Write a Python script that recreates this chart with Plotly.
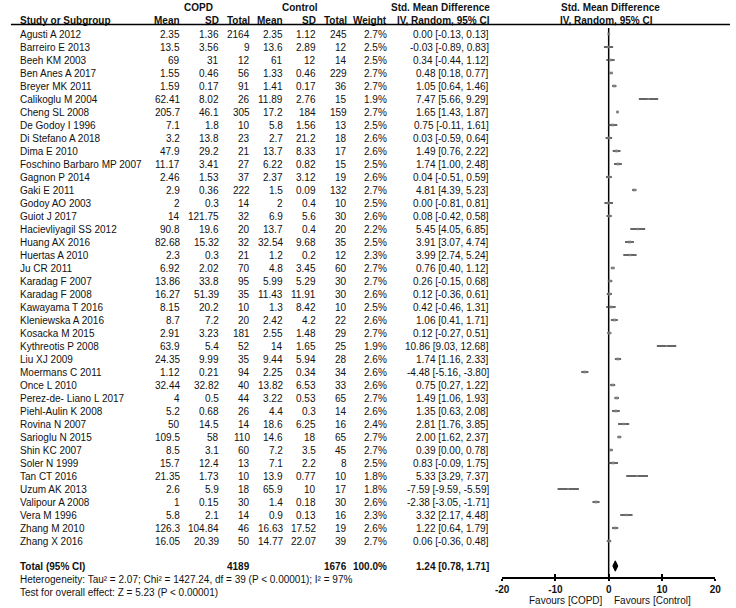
import plotly.graph_objects as go

studies = ["Agusti A 2012", "Barreiro E 2013", "Beeh KM 2003", "Ben Anes A 2017", "Breyer MK 2011",
           "Calikoglu M 2004", "Cheng SL 2008", "De Godoy I 1996", "Di Stefano A 2018", "Dima E 2010",
           "Foschino Barbaro MP 2007", "Gagnon P 2014", "Gaki E 2011", "Godoy AO 2003", "Guiot J 2017",
           "Hacievliyagil SS 2012", "Huang AX 2016", "Huertas A 2010", "Ju CR 2011", "Karadag F 2007",
           "Karadag F 2008", "Kawayama T 2016", "Kleniewska A 2016", "Kosacka M 2015", "Kythreotis P 2008",
           "Liu XJ 2009", "Moermans C 2011", "Once L 2010", "Perez-de- Liano L 2017", "Piehl-Aulin K 2008",
           "Rovina N 2007", "Sarioglu N 2015", "Shin KC 2007", "Soler N 1999", "Tan CT 2016",
           "Uzum AK 2013", "Valipour A 2008", "Vera M 1996", "Zhang M 2010", "Zhang X 2016"]
copd_mean = [2.35, 13.5, 69, 1.55, 1.59, 62.41, 205.7, 7.1, 3.2, 47.9, 11.17, 2.46, 2.9, 2, 14, 90.8,
             82.68, 2.3, 6.92, 13.86, 16.27, 8.15, 8.7, 2.91, 63.9, 24.35, 1.12, 32.44, 4, 5.2, 50, 109.5,
             8.5, 15.7, 21.35, 2.6, 1, 5.8, 126.3, 16.05]
copd_sd = [1.36, 3.56, 31, 0.46, 0.17, 8.02, 46.1, 1.8, 13.8, 29.2, 3.41, 1.53, 0.36, 0.3, 121.75, 19.6,
           15.32, 0.3, 2.02, 33.8, 51.39, 20.2, 7.2, 3.23, 5.4, 9.99, 0.21, 32.82, 0.5, 0.68, 14.5, 58,
           3.1, 12.4, 1.73, 5.9, 0.15, 2.1, 104.84, 20.39]
copd_n = [2164, 9, 12, 56, 91, 26, 305, 10, 23, 21, 27, 37, 222, 14, 32, 20, 32, 21, 70, 95, 35, 10, 20,
          181, 52, 35, 94, 40, 44, 26, 14, 110, 60, 13, 10, 18, 30, 14, 46, 50]
ctrl_mean = [2.35, 13.6, 61, 1.33, 1.41, 11.89, 17.2, 5.8, 2.7, 13.7, 6.22, 2.37, 1.5, 2, 6.9, 13.7,
             32.54, 1.2, 4.8, 5.99, 11.43, 1.3, 2.42, 2.55, 14, 9.44, 2.25, 13.82, 3.22, 4.4, 18.6, 14.6,
             7.2, 7.1, 13.9, 65.9, 1.4, 0.9, 16.63, 14.77]
ctrl_sd = [1.12, 2.89, 12, 0.46, 0.17, 2.76, 184, 1.56, 21.2, 8.33, 0.82, 3.12, 0.09, 0.4, 5.6, 0.4,
           9.68, 0.2, 3.45, 5.29, 11.91, 8.42, 4.2, 1.48, 1.65, 5.94, 0.34, 6.53, 0.53, 0.3, 6.25, 18,
           3.5, 2.2, 0.77, 10, 0.18, 0.13, 17.52, 22.07]
ctrl_n = [245, 12, 14, 229, 36, 15, 159, 13, 18, 17, 15, 19, 132, 10, 30, 20, 35, 12, 60, 30, 30, 10, 22,
          29, 25, 28, 34, 33, 65, 14, 16, 65, 45, 8, 10, 17, 30, 16, 19, 39]
weights = [2.7, 2.5, 2.5, 2.7, 2.7, 1.9, 2.7, 2.5, 2.6, 2.6, 2.5, 2.6, 2.7, 2.5, 2.6, 2.2, 2.5, 2.3, 2.7,
           2.7, 2.6, 2.5, 2.6, 2.7, 1.9, 2.6, 2.6, 2.6, 2.7, 2.6, 2.4, 2.7, 2.7, 2.5, 1.8, 1.8, 2.6, 2.3,
           2.6, 2.7]
smd = [0.00, -0.03, 0.34, 0.48, 1.05, 7.47, 1.65, 0.75, 0.03, 1.49, 1.74, 0.04, 4.81, 0.00, 0.08, 5.45,
       3.91, 3.99, 0.76, 0.26, 0.12, 0.42, 1.06, 0.12, 10.86, 1.74, -4.48, 0.75, 1.49, 1.35, 2.81, 2.00,
       0.39, 0.83, 5.33, -7.59, -2.38, 3.32, 1.22, 0.06]
ci_lo = [-0.13, -0.89, -0.44, 0.18, 0.64, 5.66, 1.43, -0.11, -0.59, 0.76, 1.00, -0.51, 4.39, -0.81,
         -0.42, 4.05, 3.07, 2.74, 0.40, -0.15, -0.36, -0.46, 0.41, -0.27, 9.03, 1.16, -5.16, 0.27, 1.06,
         0.63, 1.76, 1.62, 0.00, -0.09, 3.29, -9.59, -3.05, 2.17, 0.64, -0.36]
ci_hi = [0.13, 0.83, 1.12, 0.77, 1.46, 9.29, 1.87, 1.61, 0.64, 2.22, 2.48, 0.59, 5.23, 0.81, 0.58, 6.85,
         4.74, 5.24, 1.12, 0.68, 0.61, 1.31, 1.71, 0.51, 12.68, 2.33, -3.80, 1.22, 1.93, 2.08, 3.85, 2.37,
         0.78, 1.75, 7.37, -5.59, -1.71, 4.48, 1.79, 0.48]
total_smd, total_lo, total_hi = 1.24, 0.78, 1.71
total_weight = 100.0
heterogeneity = "Heterogeneity: Tau² = 2.07; Chi² = 1427.24, df = 39 (P &lt; 0.00001); I² = 97%"
overall_test = "Test for overall effect: Z = 5.23 (P &lt; 0.00001)"
x_ticks = [-20, -10, 0, 10, 20]
favours = ["Favours [COPD]", "Favours [Control]"]

W, H = 736, 608
FONT = "Liberation Sans, Arial, sans-serif"
TXT = "#111111"
FS = 10

def row_of(py):
    return (py - 34) / 13.0

def xp(px):
    return px / W

rows = list(range(len(studies)))
total_row = row_of(566)
het_row = row_of(579)
test_row = row_of(592)
axis_row = row_of(578)

fig = go.Figure()

# line of no effect
fig.add_trace(go.Scatter(x=[0, 0], y=[row_of(28), axis_row], mode="lines",
                         line=dict(color="#000000", width=1.5),
                         xaxis="x", yaxis="y", hoverinfo="skip", showlegend=False))

fig.add_trace(go.Scatter(
    x=smd, y=rows, mode="markers",
    marker=dict(symbol="square", size=[w * 1.1 for w in weights], color="#8a8a8a", line=dict(width=0)),
    error_x=dict(type="data", symmetric=False,
                 array=[h - m for h, m in zip(ci_hi, smd)],
                 arrayminus=[m - l for m, l in zip(smd, ci_lo)],
                 thickness=1.6, width=0, color="#333333"),
    xaxis="x", yaxis="y", hoverinfo="skip", showlegend=False))

fig.add_trace(go.Scatter(
    x=[total_lo, total_smd, total_hi, total_smd, total_lo],
    y=[total_row, total_row - 0.4, total_row, total_row + 0.4, total_row],
    mode="lines", fill="toself", fillcolor="#000000", line=dict(color="#000000", width=1),
    xaxis="x", yaxis="y", hoverinfo="skip", showlegend=False))

fig.add_trace(go.Scatter(x=[0], y=[0], mode="markers", marker=dict(size=1, opacity=0),
                         xaxis="x3", yaxis="y", hoverinfo="skip", showlegend=False))

ann = []
def add(px, r, text, anchor="right", bold=False):
    t = f"<b>{text}</b>" if bold else text
    ann.append(dict(x=xp(px), xref="paper", y=r, yref="y", text=t, showarrow=False,
                    xanchor=anchor, yanchor="middle", borderpad=0,
                    font=dict(family=FONT, size=FS, color=TXT)))

fmt = lambda v: f"{v:g}"

h1, h2 = row_of(7.5), row_of(20.5)
add(195, h1, "COPD", "center", True)
add(298, h1, "Control", "center", True)
add(441, h1, "Std. Mean Difference", "center", True)
add(614, h1, "Std. Mean Difference", "center", True)
add(12, h2, "Study or Subgroup", "left", True)
add(177, h2, "Mean", bold=True)
add(217, h2, "SD", bold=True)
add(248, h2, "Total", bold=True)
add(282, h2, "Mean", bold=True)
add(316, h2, "SD", bold=True)
add(347, h2, "Total", bold=True)
add(388, h2, "Weight", bold=True)
add(493, h2, "IV, Random, 95% CI", bold=True)
add(610, h2, "IV, Random, 95% CI", "center", True)

for i in rows:
    add(12, i, studies[i], "left")
    add(177, i, fmt(copd_mean[i]))
    add(217, i, fmt(copd_sd[i]))
    add(248, i, str(copd_n[i]))
    add(282, i, fmt(ctrl_mean[i]))
    add(316, i, fmt(ctrl_sd[i]))
    add(347, i, str(ctrl_n[i]))
    add(388, i, f"{weights[i]:.1f}%")
    add(492, i, f"{smd[i]:.2f} [{ci_lo[i]:.2f}, {ci_hi[i]:.2f}]")

add(12, total_row, "Total (95% CI)", "left", True)
add(248, total_row, str(sum(copd_n)), bold=True)
add(347, total_row, str(sum(ctrl_n)), bold=True)
add(388, total_row, f"{total_weight:.1f}%", bold=True)
add(492, total_row, f"{total_smd:.2f} [{total_lo:.2f}, {total_hi:.2f}]", bold=True)
add(12, het_row, heterogeneity, "left")
add(12, test_row, overall_test, "left")

fav_row = row_of(600.5)
add(608, fav_row, favours[0], "right")
add(617, fav_row, favours[1], "left")

x_dom = [xp(504), xp(721)]
axis_pos = 1 - 578 / H

fig.update_layout(
    width=W, height=H, margin=dict(l=0, r=0, t=0, b=0),
    paper_bgcolor="white", plot_bgcolor="white",
    annotations=ann,
    xaxis=dict(domain=x_dom, range=[-20, 20], anchor="free", position=axis_pos,
               showline=True, linecolor="#000000", linewidth=1.5,
               ticks="outside", ticklen=2, tickwidth=1.5, tickcolor="#000000",
               tickvals=x_ticks, ticktext=[f"<b>{t}</b>" for t in x_ticks],
               tickfont=dict(family=FONT, size=FS, color=TXT),
               showgrid=False, zeroline=False, fixedrange=True),
    xaxis3=dict(domain=x_dom, range=[-20, 20], anchor="free", position=axis_pos,
                overlaying="x", showline=False, ticks="inside", ticklen=4, tickwidth=1.5,
                tickcolor="#000000", tickvals=x_ticks, showticklabels=False,
                showgrid=False, zeroline=False),
    yaxis=dict(domain=[0, 1], range=[row_of(H), row_of(0)], visible=False,
               showgrid=False, zeroline=False),
    shapes=[
        dict(type="line", xref="paper", yref="y", x0=xp(4), x1=1, y0=row_of(24.5), y1=row_of(24.5),
             line=dict(color="#000000", width=1.5)),
    ],
)

fig.write_html("out.html", config={"displayModeBar": False},
               post_script="document.body.style.margin='0';document.body.style.padding='0';")
